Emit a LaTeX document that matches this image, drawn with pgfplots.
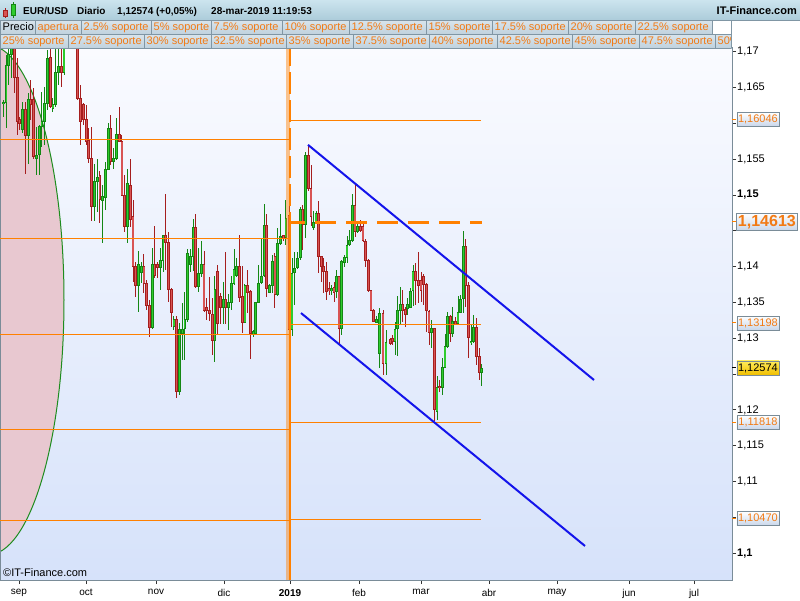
\documentclass[border=0pt]{standalone}
\usepackage{pgfplots}
\usepackage{pgfplotstable}
\pgfplotsset{compat=1.18}
\usepackage{fontspec}
\setmainfont{Liberation Sans}

\definecolor{bgtop}{RGB}{250,251,255}
\definecolor{bgbot}{RGB}{214,226,250}
\definecolor{frame}{RGB}{122,140,152}
\definecolor{supp}{RGB}{255,128,0}
\definecolor{txtor}{RGB}{242,122,20}
\definecolor{redfill}{RGB}{216,84,84}
\definecolor{redline}{RGB}{165,30,30}
\definecolor{grnfill}{RGB}{46,204,46}
\definecolor{grnline}{RGB}{20,135,20}
\definecolor{chan}{RGB}{20,20,235}
\definecolor{hdrtop}{RGB}{204,228,238}
\definecolor{hdrbot}{RGB}{172,204,218}
\definecolor{celltop}{RGB}{216,228,236}
\definecolor{cellbot}{RGB}{192,210,222}
\definecolor{cellbd}{RGB}{128,150,164}
\definecolor{ellfill}{RGB}{232,200,208}
\definecolor{ellline}{RGB}{30,140,30}
\definecolor{boxbot}{RGB}{200,214,234}
\definecolor{goldtop}{RGB}{255,236,90}
\definecolor{goldbot}{RGB}{240,190,0}

\newcommand{\fs}[1]{\fontsize{#1}{#1}\selectfont}

% candles: x = chart position (px), o h l c = prices
\pgfplotstableread{
x o h l c
14.34 1.1715 1.1728 1.1642 1.1664
17.10 1.1664 1.1691 1.1584 1.1602
19.86 1.1606 1.1609 1.1591 1.1599
25.38 1.1619 1.1630 1.1530 1.1583
30.90 1.1633 1.1661 1.1605 1.1626
33.66 1.1633 1.1649 1.1551 1.1553
50.22 1.1692 1.1705 1.1621 1.1623
61.26 1.1679 1.1705 1.1651 1.1671
69.54 1.1735 1.1750 1.1712 1.1722
75.06 1.1742 1.1750 1.1712 1.1720
77.82 1.1720 1.1728 1.1633 1.1635
80.58 1.1635 1.1654 1.1570 1.1603
83.34 1.1627 1.1628 1.1598 1.1605
86.10 1.1606 1.1626 1.1570 1.1574
88.86 1.1577 1.1593 1.1544 1.1551
91.62 1.1551 1.1595 1.1464 1.1484
99.90 1.1527 1.1534 1.1461 1.1493
110.94 1.1593 1.1612 1.1542 1.1547
119.22 1.1585 1.1623 1.1574 1.1575
121.98 1.1575 1.1584 1.1498 1.1499
124.74 1.1499 1.1528 1.1449 1.1456
130.30 1.1513 1.1551 1.1456 1.1466
133.03 1.1470 1.1493 1.1379 1.1400
135.76 1.1400 1.1407 1.1357 1.1374
143.95 1.1400 1.1418 1.1363 1.1376
146.68 1.1376 1.1381 1.1339 1.1345
149.41 1.1346 1.1353 1.1302 1.1315
154.87 1.1403 1.1457 1.1384 1.1387
157.60 1.1403 1.1407 1.1384 1.1398
165.79 1.1443 1.1501 1.1395 1.1433
168.52 1.1434 1.1449 1.1351 1.1368
171.25 1.1368 1.1370 1.1316 1.1336
176.71 1.1326 1.1331 1.1216 1.1225
195.82 1.1455 1.1473 1.1370 1.1372
204.01 1.1403 1.1422 1.1337 1.1339
206.74 1.1343 1.1356 1.1326 1.1338
209.47 1.1339 1.1385 1.1324 1.1334
212.20 1.1334 1.1356 1.1277 1.1297
217.66 1.1394 1.1402 1.1306 1.1321
220.39 1.1359 1.1363 1.1320 1.1343
225.85 1.1354 1.1420 1.1320 1.1343
239.50 1.1401 1.1444 1.1351 1.1357
242.23 1.1358 1.1401 1.1307 1.1322
247.69 1.1374 1.1395 1.1335 1.1364
250.42 1.1365 1.1368 1.1271 1.1306
266.80 1.1458 1.1474 1.1357 1.1370
274.99 1.1415 1.1419 1.1343 1.1361
283.18 1.1443 1.1444 1.1436 1.1440
289.00 1.1472 1.1489 1.1302 1.1312
302.80 1.1480 1.1486 1.1423 1.1458
308.30 1.1556 1.1570 1.1505 1.1509
311.00 1.1509 1.1542 1.1457 1.1470
318.50 1.1474 1.1491 1.1391 1.1414
321.10 1.1414 1.1414 1.1379 1.1400
323.70 1.1400 1.1412 1.1363 1.1393
326.30 1.1393 1.1407 1.1353 1.1365
329.00 1.1369 1.1379 1.1361 1.1366
334.00 1.1371 1.1379 1.1351 1.1364
339.00 1.1386 1.1386 1.1291 1.1314
355.00 1.1486 1.1516 1.1442 1.1449
360.30 1.1456 1.1465 1.1448 1.1450
363.00 1.1456 1.1462 1.1435 1.1436
365.70 1.1436 1.1439 1.1400 1.1409
368.30 1.1409 1.1411 1.1365 1.1366
371.00 1.1367 1.1368 1.1338 1.1338
373.70 1.1339 1.1341 1.1322 1.1323
383.00 1.1335 1.1340 1.1249 1.1265
390.30 1.1298 1.1300 1.1291 1.1293
392.70 1.1300 1.1305 1.1291 1.1296
402.80 1.1347 1.1367 1.1323 1.1339
405.30 1.1341 1.1344 1.1316 1.1333
415.70 1.1394 1.1405 1.1347 1.1381
418.30 1.1381 1.1420 1.1349 1.1373
421.00 1.1381 1.1392 1.1351 1.1366
423.70 1.1387 1.1389 1.1346 1.1375
426.30 1.1375 1.1377 1.1309 1.1338
429.00 1.1338 1.1339 1.1291 1.1308
434.30 1.1314 1.1314 1.1184 1.1200
439.70 1.1233 1.1242 1.1225 1.1231
450.20 1.1330 1.1333 1.1295 1.1307
455.40 1.1323 1.1330 1.1318 1.1320
465.80 1.1429 1.1439 1.1344 1.1374
468.40 1.1374 1.1379 1.1273 1.1301
476.40 1.1315 1.1328 1.1263 1.1274
479.10 1.1275 1.1286 1.1242 1.1252
}\redc

\pgfplotstableread{
x o h l c
3.30 1.1627 1.1633 1.1609 1.1629
6.06 1.1629 1.1695 1.1594 1.1681
8.82 1.1681 1.1705 1.1654 1.1696
11.58 1.1696 1.1725 1.1663 1.1712
22.62 1.1591 1.1630 1.1586 1.1619
28.14 1.1583 1.1642 1.1544 1.1634
36.42 1.1551 1.1595 1.1528 1.1556
39.18 1.1556 1.1598 1.1528 1.1596
41.94 1.1596 1.1644 1.1567 1.1603
44.70 1.1602 1.1651 1.1570 1.1628
47.46 1.1628 1.1702 1.1619 1.1691
52.98 1.1620 1.1635 1.1616 1.1627
55.74 1.1626 1.1705 1.1623 1.1671
58.50 1.1671 1.1705 1.1654 1.1679
64.02 1.1671 1.1722 1.1668 1.1712
66.78 1.1712 1.1745 1.1706 1.1735
72.30 1.1722 1.1755 1.1715 1.1742
94.38 1.1484 1.1544 1.1464 1.1519
97.14 1.1518 1.1550 1.1477 1.1524
102.66 1.1492 1.1514 1.1433 1.1498
105.42 1.1497 1.1546 1.1479 1.1536
108.18 1.1536 1.1600 1.1535 1.1593
113.70 1.1547 1.1565 1.1537 1.1551
116.46 1.1551 1.1607 1.1549 1.1585
127.50 1.1456 1.1536 1.1433 1.1516
138.49 1.1374 1.1422 1.1336 1.1403
141.22 1.1392 1.1406 1.1377 1.1400
152.14 1.1315 1.1426 1.1313 1.1403
160.33 1.1398 1.1426 1.1367 1.1409
163.06 1.1409 1.1444 1.1392 1.1443
173.98 1.1316 1.1331 1.1312 1.1326
179.44 1.1225 1.1322 1.1221 1.1313
182.17 1.1307 1.1349 1.1270 1.1313
184.90 1.1313 1.1364 1.1270 1.1326
187.63 1.1326 1.1424 1.1323 1.1419
190.36 1.1403 1.1424 1.1393 1.1415
193.09 1.1414 1.1467 1.1394 1.1455
198.55 1.1372 1.1426 1.1365 1.1390
201.28 1.1390 1.1436 1.1386 1.1403
214.93 1.1297 1.1387 1.1267 1.1368
223.12 1.1343 1.1379 1.1320 1.1354
228.58 1.1343 1.1362 1.1312 1.1350
231.31 1.1350 1.1387 1.1339 1.1377
234.04 1.1377 1.1425 1.1374 1.1396
236.77 1.1388 1.1412 1.1386 1.1401
244.96 1.1322 1.1376 1.1321 1.1374
253.15 1.1306 1.1312 1.1302 1.1310
255.88 1.1306 1.1351 1.1305 1.1350
258.61 1.1350 1.1403 1.1349 1.1377
261.34 1.1377 1.1440 1.1376 1.1387
264.07 1.1387 1.1487 1.1386 1.1458
269.53 1.1364 1.1376 1.1363 1.1374
272.26 1.1374 1.1416 1.1363 1.1408
277.72 1.1361 1.1454 1.1359 1.1432
280.45 1.1432 1.1473 1.1430 1.1443
285.91 1.1440 1.1493 1.1430 1.1467
292.00 1.1312 1.1412 1.1303 1.1391
294.70 1.1391 1.1421 1.1346 1.1398
297.40 1.1398 1.1420 1.1397 1.1412
300.10 1.1412 1.1484 1.1409 1.1480
305.60 1.1458 1.1560 1.1440 1.1556
313.50 1.1454 1.1477 1.1451 1.1462
316.00 1.1462 1.1477 1.1461 1.1474
331.50 1.1366 1.1375 1.1360 1.1369
336.50 1.1365 1.1395 1.1356 1.1386
341.70 1.1314 1.1409 1.1305 1.1408
344.30 1.1405 1.1416 1.1400 1.1413
347.00 1.1413 1.1443 1.1405 1.1430
349.70 1.1430 1.1451 1.1429 1.1436
352.30 1.1436 1.1502 1.1435 1.1486
357.70 1.1449 1.1463 1.1447 1.1456
376.30 1.1322 1.1331 1.1321 1.1326
379.30 1.1279 1.1342 1.1258 1.1335
386.00 1.1265 1.1312 1.1249 1.1295
395.00 1.1295 1.1323 1.1277 1.1313
397.70 1.1313 1.1359 1.1276 1.1339
400.30 1.1339 1.1372 1.1319 1.1347
407.80 1.1342 1.1356 1.1333 1.1347
410.30 1.1343 1.1370 1.1342 1.1366
413.00 1.1366 1.1403 1.1345 1.1394
431.70 1.1308 1.1326 1.1286 1.1314
437.00 1.1198 1.1247 1.1186 1.1232
442.30 1.1231 1.1272 1.1221 1.1259
445.00 1.1259 1.1306 1.1258 1.1288
447.60 1.1288 1.1337 1.1286 1.1330
452.80 1.1307 1.1344 1.1302 1.1323
458.00 1.1320 1.1359 1.1318 1.1336
460.60 1.1336 1.1360 1.1335 1.1355
463.20 1.1355 1.1450 1.1335 1.1429
471.00 1.1294 1.1319 1.1291 1.1296
473.70 1.1296 1.1333 1.1293 1.1315
481.70 1.1252 1.1264 1.1234 1.12574
}\grnc

\pgfplotsset{
  cwick/.style={draw=none, mark=none,
    error bars/y dir=both, error bars/y explicit,
    error bars/error mark=none,
    error bars/error bar style={line width=1pt, draw=#1, solid}},
  cbody/.style 2 args={draw=none, mark=none,
    error bars/y dir=both, error bars/y explicit,
    error bars/error mark=none,
    error bars/error bar style={line width=#2, draw=#1, solid, line cap=butt}},
}
\tikzset{
  pbox/.style={draw=frame, line width=0.8pt, top color=white, bottom color=boxbot,
    inner sep=0pt, minimum width=42pt, minimum height=14pt, anchor=west,
    font=\fs{11}, text=txtor},
}

% header cell: x1, x2, ybottom, ytop, text colour, text
\newcommand{\hcell}[6]{%
  \shade[top color=celltop, bottom color=cellbot] (#1pt,#3pt) rectangle (#2pt,#4pt);
  \draw[cellbd, line width=0.8pt] (#1pt,#3pt) rectangle (#2pt,#4pt);
  \node[anchor=base west, inner sep=0pt, font=\fs{11}, text=#5] at ({#1pt+2.5pt},{#3pt+3.3pt}) {#6};
}

\begin{document}
\begin{tikzpicture}
\useasboundingbox (0,0) rectangle (800pt,600pt);
\fill[white] (0,0) rectangle (800pt,600pt);

% plot background and ellipse drawing
\shade[top color=bgtop, bottom color=bgbot] (0pt,20pt) rectangle (732pt,552pt);
\begin{scope}
  \clip (0pt,20pt) rectangle (732pt,552pt);
  \draw[fill=ellfill, draw=ellline, line width=1pt] (-12.2pt,300pt) ellipse [x radius=76.2pt, y radius=255pt];
\end{scope}

\begin{axis}[
  at={(0pt,20pt)}, anchor=south west,
  width=732pt, height=532pt, scale only axis,
  xmin=0, xmax=732, ymin=1.09625, ymax=1.17052,
  axis line style={draw=frame, line width=1pt},
  xtick={19,86,156,224,290,359,421,489,557,629,694},
  xticklabels={sep,oct,nov,dic,\textbf{2019},feb,mar,abr,may,jun,jul},
  ytick={1.1,1.105,1.11,1.115,1.12,1.125,1.13,1.135,1.14,1.145,1.15,1.155,1.16,1.165,1.17},
  yticklabels={{\textbf{1,1}},{},{1,11},{1,115},{1,12},{},{1,13},{1,135},{1,14},{},{\textbf{1,15}},{1,155},{},{1,165},{1,17}},
  xtick pos=bottom, ytick pos=right, yticklabel pos=right,
  tick align=outside, major tick length=4pt,
  tick style={draw=black!80, line width=0.8pt},
  xticklabel style={font=\fs{10}, yshift=-1.5pt},
  yticklabel style={font=\fs{11}, inner sep=1pt},
]
% wicks
\addplot[cwick=redline] table[x=x, y expr={(\thisrow{h}+\thisrow{l})/2}, y error expr={(\thisrow{h}-\thisrow{l})/2}] {\redc};
\addplot[cwick=grnline] table[x=x, y expr={(\thisrow{h}+\thisrow{l})/2}, y error expr={(\thisrow{h}-\thisrow{l})/2}] {\grnc};
% bodies
\addplot[cbody={redline}{2.8pt}] table[x=x, y expr={(\thisrow{o}+\thisrow{c})/2}, y error expr={max(abs(\thisrow{o}-\thisrow{c})/2+0.00005,0.0001)}] {\redc};
\addplot[cbody={redfill}{1.1pt}] table[x=x, y expr={(\thisrow{o}+\thisrow{c})/2}, y error expr={max(abs(\thisrow{o}-\thisrow{c})/2-0.00009,0)}] {\redc};
\addplot[cbody={grnline}{2.8pt}] table[x=x, y expr={(\thisrow{o}+\thisrow{c})/2}, y error expr={max(abs(\thisrow{o}-\thisrow{c})/2+0.00005,0.0001)}] {\grnc};
\addplot[cbody={grnfill}{1.1pt}] table[x=x, y expr={(\thisrow{o}+\thisrow{c})/2}, y error expr={max(abs(\thisrow{o}-\thisrow{c})/2-0.00009,0)}] {\grnc};

% support levels, previous period
\addplot[supp, line width=1pt] coordinates {(0,1.15777) (290,1.15777)};
\addplot[supp, line width=1pt] coordinates {(0,1.14395) (290,1.14395)};
\addplot[supp, line width=1pt] coordinates {(0,1.13055) (290,1.13055)};
\addplot[supp, line width=1pt] coordinates {(0,1.11733) (290,1.11733)};
\addplot[supp, line width=1pt] coordinates {(0,1.10449) (290,1.10449)};
% support levels, current period
\addplot[supp, line width=1pt] coordinates {(290,1.16046) (481,1.16046)};
\addplot[supp, line width=1pt] coordinates {(290,1.13198) (481,1.13198)};
\addplot[supp, line width=1pt] coordinates {(290,1.11818) (481,1.11818)};
\addplot[supp, line width=1pt] coordinates {(290,1.10470) (481,1.10470)};
\addplot[supp, line width=3.5pt, dash pattern=on 21pt off 10pt, dash phase=6pt] coordinates {(290,1.14613) (482,1.14613)};
% year separator
\addplot[supp, opacity=0.45, line width=4.5pt] coordinates {(288,1.09625) (288,1.17052)};
\addplot[supp, line width=2pt] coordinates {(289.5,1.09625) (289.5,1.1445)};
\addplot[supp, line width=2pt, dash pattern=on 22pt off 6pt] coordinates {(289.5,1.1445) (289.5,1.17052)};
% channel
\addplot[chan, line width=2pt] coordinates {(308,1.1570) (594,1.12417)};
\addplot[chan, line width=2pt] coordinates {(301,1.13352) (585,1.10100)};
\end{axis}

\node[anchor=base west, inner sep=0pt, font=\fs{11}] at (3pt,24pt) {©IT-Finance.com};

% price boxes
\foreach \yy in {480.5,378,277,177.5,81.3}{\draw[supp, line width=1pt] (732pt,\yy pt) -- (736pt,\yy pt);}
\draw[black, line width=1pt] (732pt,232pt) -- (736pt,232pt);
\node[pbox] at (736.5pt,480.5pt) {1,16046};
\node[pbox, minimum width=61pt, minimum height=17.5pt, font=\bfseries\fs{16}] at (736pt,378pt) {1,14613};
\node[pbox] at (736.5pt,277pt) {1,13198};
\node[pbox, top color=goldtop, bottom color=goldbot, text=black] at (736.5pt,232pt) {1,12574};
\node[pbox] at (736.5pt,177.5pt) {1,11818};
\node[pbox] at (736.5pt,81.3pt) {1,10470};

% header row 1
\shade[top color=hdrtop, bottom color=hdrbot] (0pt,580pt) rectangle (800pt,600pt);
\draw[cellbd, line width=0.8pt] (0pt,580pt) -- (800pt,580pt);
\draw[redline, line width=1pt] (5.5pt,582pt) -- (5.5pt,592pt);
\filldraw[fill=redfill, draw=redline, line width=0.8pt] (3.5pt,584pt) rectangle (7.5pt,590pt);
\draw[grnline, line width=1pt] (13pt,582pt) -- (13pt,598pt);
\filldraw[fill=grnfill, draw=grnline, line width=0.8pt] (11pt,585pt) rectangle (15.5pt,596pt);
\node[anchor=base west, inner sep=0pt, font=\bfseries\fs{10}] at (23pt,585pt) {EUR/USD};
\node[anchor=base west, inner sep=0pt, font=\bfseries\fs{10}] at (77pt,585pt) {Diario};
\node[anchor=base west, inner sep=0pt, font=\bfseries\fs{10}] at (117pt,585pt) {1,12574 (+0,05\%)};
\node[anchor=base west, inner sep=0pt, font=\bfseries\fs{10}] at (211pt,585pt) {28-mar-2019 11:19:53};
\node[anchor=base east, inner sep=0pt, font=\bfseries\fs{11}] at (797pt,585pt) {IT-Finance.com};

% header row 2
\hcell{0}{35}{566}{579.5}{black}{Precio}
\hcell{35}{81}{566}{579.5}{txtor}{apertura}
\hcell{81}{151}{566}{579.5}{txtor}{2.5\% soporte}
\hcell{151}{211}{566}{579.5}{txtor}{5\% soporte}
\hcell{211}{282}{566}{579.5}{txtor}{7.5\% soporte}
\hcell{282}{349}{566}{579.5}{txtor}{10\% soporte}
\hcell{349}{426}{566}{579.5}{txtor}{12.5\% soporte}
\hcell{426}{492}{566}{579.5}{txtor}{15\% soporte}
\hcell{492}{568}{566}{579.5}{txtor}{17.5\% soporte}
\hcell{568}{635}{566}{579.5}{txtor}{20\% soporte}
\hcell{635}{712}{566}{579.5}{txtor}{22.5\% soporte}
\fill[white] (712pt,566pt) rectangle (731pt,579.5pt);
\draw[cellbd, line width=0.8pt] (712pt,566pt) rectangle (731pt,579.5pt);
% header row 3
\hcell{0}{68}{552}{565.5}{txtor}{25\% soporte}
\hcell{68}{144}{552}{565.5}{txtor}{27.5\% soporte}
\hcell{144}{211}{552}{565.5}{txtor}{30\% soporte}
\hcell{211}{286}{552}{565.5}{txtor}{32.5\% soporte}
\hcell{286}{353}{552}{565.5}{txtor}{35\% soporte}
\hcell{353}{429}{552}{565.5}{txtor}{37.5\% soporte}
\hcell{429}{497}{552}{565.5}{txtor}{40\% soporte}
\hcell{497}{572}{552}{565.5}{txtor}{42.5\% soporte}
\hcell{572}{639}{552}{565.5}{txtor}{45\% soporte}
\hcell{639}{715}{552}{565.5}{txtor}{47.5\% soporte}
\begin{scope}
  \clip (715pt,550pt) rectangle (731.5pt,567pt);
  \hcell{715}{760}{552}{565.5}{txtor}{50\% soporte}
\end{scope}
\draw[cellbd, line width=0.8pt] (731pt,552pt) -- (731pt,566pt);
\end{tikzpicture}
\end{document}
